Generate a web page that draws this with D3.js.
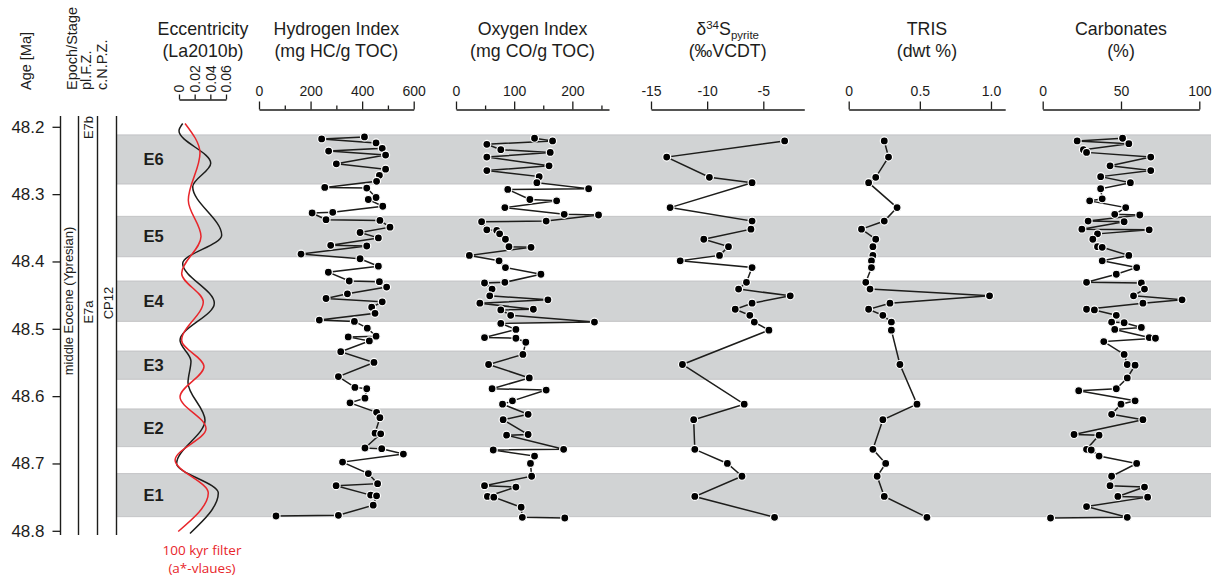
<!DOCTYPE html>
<html>
<head>
<meta charset="utf-8">
<script src="https://cdn.jsdelivr.net/npm/d3@7"></script>
<style>
  body { margin: 0; background: #fff; }
  svg { display: block; }
  text { font-family: "Liberation Sans", Arial, Helvetica, sans-serif; fill: #1d1d1b; }
</style>
</head>
<body>
<svg id="chart" width="1219" height="578"></svg>
<script>
// ---------- age axis and eccentricity cycles ----------
const ageTicks = [48.2, 48.3, 48.4, 48.5, 48.6, 48.7, 48.8];
const bandNames = ["E6", "E5", "E4", "E3", "E2", "E1"];
const bandTop  = [48.212, 48.333, 48.429, 48.533, 48.619, 48.715];
const bandBase = [48.285, 48.393, 48.489, 48.575, 48.675, 48.779];

// La2010b eccentricity (turning points)
const eccAge = [48.195, 48.206, 48.254, 48.289, 48.361, 48.403, 48.462, 48.517, 48.548, 48.580, 48.636, 48.700, 48.744, 48.804];
const eccVal = [0.0047, 0.0, 0.0405, 0.0175, 0.0545, 0.0047, 0.0451, 0.0013, 0.0153, 0.0115, 0.0332, -0.003, 0.0502, 0.014];
// 100 kyr filter of a* values
const filtAge = [48.195, 48.239, 48.309, 48.363, 48.418, 48.460, 48.517, 48.556, 48.601, 48.648, 48.695, 48.744, 48.801];
const filtVal = [0.0077, 0.0268, 0.0119, 0.0281, 0.0034, 0.031, 0.0034, 0.0319, 0.0013, 0.0345, -0.005, 0.0374, -0.001];
const eccTicks = [0, 0.02, 0.04, 0.06];

// ---------- Hydrogen Index ----------
const hiAge = [48.215,48.218,48.224,48.232,48.236,48.242,48.255,48.263,48.272,48.281,48.290,48.291,48.305,48.308,48.318,48.327,48.328,48.338,48.339,48.349,48.357,48.365,48.376,48.377,48.389,48.396,48.407,48.416,48.429,48.430,48.438,48.448,48.455,48.460,48.468,48.477,48.487,48.489,48.499,48.511,48.512,48.518,48.534,48.550,48.571,48.587,48.589,48.603,48.610,48.624,48.632,48.655,48.656,48.677,48.678,48.686,48.698,48.715,48.730,48.733,48.747,48.748,48.762,48.777,48.778];
const hiVal = [409,243,454,478,270,491,300,491,467,456,255,418,454,424,480,286,206,260,469,508,392,463,278,418,163,392,463,269,350,467,495,343,260,478,437,450,234,370,420,454,346,428,317,446,308,372,418,411,353,456,469,450,472,411,476,560,324,424,460,299,433,456,443,308,66];
const hiMajor = [0, 200, 400, 600];
const hiMinor = [100, 300, 500];

// ---------- Oxygen Index ----------
const oiAge = [48.217,48.221,48.226,48.234,48.238,48.245,48.258,48.265,48.274,48.283,48.292,48.293,48.308,48.310,48.320,48.330,48.331,48.340,48.341,48.353,48.354,48.359,48.367,48.378,48.379,48.391,48.399,48.409,48.419,48.431,48.432,48.441,48.451,48.457,48.462,48.471,48.472,48.480,48.490,48.492,48.501,48.513,48.514,48.520,48.538,48.553,48.573,48.589,48.591,48.607,48.612,48.627,48.635,48.657,48.658,48.679,48.680,48.689,48.700,48.719,48.733,48.735,48.749,48.750,48.765,48.780,48.781];
const oiVal = [135,166,53,77,162,53,160,53,143,139,228,89,127,173,84,186,245,155,44,53,70,75,85,91,129,23,74,85,146,84,49,62,58,158,41,133,77,94,238,77,103,49,103,120,115,56,126,62,155,97,80,124,81,124,87,185,64,135,128,130,49,103,54,65,112,114,187];
const oiMajor = [0, 100, 200];
const oiMinor = [50, 150, 250];

// ---------- sulphur: d34S pyrite and TRIS ----------
const sAge = [48.221,48.245,48.275,48.283,48.320,48.340,48.352,48.367,48.378,48.391,48.399,48.409,48.431,48.441,48.451,48.462,48.471,48.480,48.490,48.502,48.553,48.612,48.635,48.679,48.700,48.719,48.749,48.780];
const d34S = [-3.1,-13.6,-9.8,-6.0,-13.3,-6.0,-6.1,-10.3,-8.1,-8.9,-12.4,-6.0,-6.5,-7.2,-2.6,-6.0,-7.5,-6.2,-5.8,-4.5,-12.2,-6.7,-11.2,-11.1,-8.2,-6.9,-11.1,-4.0];
const trisVal = [0.25,0.28,0.19,0.14,0.34,0.25,0.09,0.19,0.17,0.17,0.16,0.16,0.12,0.15,0.99,0.29,0.14,0.24,0.30,0.30,0.36,0.48,0.24,0.17,0.26,0.20,0.25,0.55];
const sTicks = [-15, -10, -5];
const trisTicks = [0, 0.5, 1.0];

// ---------- Carbonates ----------
const carbAge = [48.217,48.221,48.225,48.234,48.238,48.245,48.258,48.265,48.274,48.283,48.292,48.307,48.310,48.320,48.330,48.331,48.340,48.341,48.352,48.353,48.359,48.367,48.378,48.379,48.391,48.399,48.409,48.419,48.431,48.432,48.441,48.451,48.457,48.462,48.471,48.472,48.480,48.490,48.491,48.498,48.501,48.513,48.514,48.519,48.538,48.553,48.554,48.573,48.589,48.592,48.607,48.612,48.627,48.635,48.657,48.658,48.679,48.680,48.689,48.700,48.719,48.733,48.735,48.749,48.750,48.764,48.780,48.781];
const carbVal = [51,22,55,26,28,69,43,69,37,56,37,38,30,53,46,62,29,52,25,68,35,32,35,38,55,38,60,47,28,63,65,58,89,64,28,33,47,44,52,63,46,68,72,39,52,54,59,54,47,23,59,50,44,64,20,36,28,31,36,60,44,43,65,48,67,28,54,5];
const carbTicks = [0, 50, 100];

// ---------- drawing ----------
const ink = "#1d1d1b";
const red = "#e8262b";
const titleSize = "17.8px";
const svg = d3.select("#chart");
const yAge = d3.scaleLinear().domain([48.2, 48.8]).range([126.8, 530.8]);

// grey cycle bands
const bands = bandNames.map((n, i) => ({ name: n, top: bandTop[i], base: bandBase[i] }));
const gBands = svg.append("g");
gBands.selectAll("rect").data(bands).join("rect")
  .attr("x", 116.5).attr("width", 1211 - 116.5)
  .attr("y", d => yAge(d.top))
  .attr("height", d => yAge(d.base) - yAge(d.top))
  .attr("fill", "#d1d3d4");
gBands.selectAll("line").data(bands.flatMap(d => [d.top, d.base])).join("line")
  .attr("x1", 116.5).attr("x2", 1211)
  .attr("y1", d => yAge(d)).attr("y2", d => yAge(d))
  .attr("stroke", "#bcbdbf").attr("stroke-width", 0.8);
gBands.selectAll("text").data(bands).join("text")
  .attr("x", 153.7)
  .attr("y", d => (yAge(d.top) + yAge(d.base)) / 2)
  .attr("dy", "0.36em")
  .attr("text-anchor", "middle")
  .style("font-size", "16.5px").style("font-weight", "bold")
  .text(d => d.name);

// eccentricity and filtered a* curves
const xEcc = d3.scaleLinear().domain([0, 0.06]).range([179, 226]);
const eccLine = d3.line().x(d => xEcc(d[1])).y(d => yAge(d[0])).curve(d3.curveMonotoneY);
svg.append("path").datum(d3.zip(eccAge, eccVal)).attr("d", eccLine)
  .attr("fill", "none").attr("stroke", ink).attr("stroke-width", 1.5);
svg.append("path").datum(d3.zip(filtAge, filtVal)).attr("d", eccLine)
  .attr("fill", "none").attr("stroke", red).attr("stroke-width", 1.5);

const gEccAxis = svg.append("g").attr("transform", "translate(0,99.5)")
  .call(d3.axisTop(xEcc).tickValues(eccTicks).tickSize(5).tickSizeOuter(0)
    .tickFormat(d => d === 0 ? "0" : d.toFixed(2)));
gEccAxis.selectAll(".tick text")
  .attr("x", 0).attr("y", 0).attr("dy", "0.35em")
  .attr("transform", "translate(0,-7) rotate(-90)")
  .style("text-anchor", "start")
  .style("font-size", "14px");
gEccAxis.selectAll("line, path").attr("stroke", ink).attr("stroke-width", 1.3);

svg.append("text").attr("x", 203).attr("y", 35).attr("text-anchor", "middle")
  .style("font-size", titleSize).text("Eccentricity");
svg.append("text").attr("x", 203).attr("y", 57).attr("text-anchor", "middle")
  .style("font-size", titleSize).text("(La2010b)");

svg.append("text").attr("x", 202).attr("y", 555).attr("text-anchor", "middle")
  .style("font-family", "'Open Sans', sans-serif").style("font-size", "13.5px")
  .style("fill", red).text("100 kyr filter");
svg.append("text").attr("x", 202).attr("y", 572.5).attr("text-anchor", "middle")
  .style("font-family", "'Open Sans', sans-serif").style("font-size", "13.5px")
  .style("fill", red).text("(a*-vlaues)");

// age axis
const gAge = svg.append("g").attr("transform", "translate(60.5,0)")
  .call(d3.axisLeft(yAge).tickValues(ageTicks).tickSize(8).tickPadding(8)
    .tickFormat(d3.format(".1f")));
gAge.select(".domain").remove();
gAge.selectAll(".tick text").style("font-size", "17px");
gAge.selectAll("line").attr("stroke", ink).attr("stroke-width", 1.3);

// stratigraphic column lines
svg.append("g").selectAll("line").data([60.5, 78.5, 97.5, 116.5]).join("line")
  .attr("x1", d => d).attr("x2", d => d).attr("y1", 116).attr("y2", 535)
  .attr("stroke", ink).attr("stroke-width", 1.4);

// rotated column headers and unit names
const rotated = [
  { t: "Age [Ma]", x: 30.5, y: 90, a: "start", s: 14.5 },
  { t: "Epoch/Stage", x: 77, y: 90, a: "start", s: 14.5 },
  { t: "pl.F.Z.", x: 91, y: 90, a: "start", s: 14.5 },
  { t: "c.N.P.Z.", x: 107, y: 90, a: "start", s: 14.5 },
  { t: "middle Eocene (Ypresian)", x: 73, y: 301, a: "middle", s: 13 },
  { t: "E7b", x: 93, y: 127.5, a: "middle", s: 13 },
  { t: "E7a", x: 93, y: 312, a: "middle", s: 13 },
  { t: "CP12", x: 112.5, y: 303, a: "middle", s: 13 }
];
svg.append("g").selectAll("text").data(rotated).join("text")
  .attr("transform", d => `translate(${d.x},${d.y}) rotate(-90)`)
  .attr("text-anchor", d => d.a)
  .style("font-size", d => d.s + "px")
  .text(d => d.t);

// proxy panels
const panels = [
  { title: ["Hydrogen Index", "(mg HC/g TOC)"], age: hiAge, val: hiVal,
    domain: [0, 600], range: [259, 413.7], major: hiMajor, minor: hiMinor, fmt: d => d },
  { title: ["Oxygen Index", "(mg CO/g TOC)"], age: oiAge, val: oiVal,
    domain: [0, 263], range: [456, 609], major: oiMajor, minor: oiMinor, fmt: d => d },
  { title: null, age: sAge, val: d34S,
    domain: [-15, -1.35], range: [651, 804.3], major: sTicks, minor: [], fmt: d => String(d) },
  { title: ["TRIS", "(dwt %)"], age: sAge, val: trisVal,
    domain: [0, 1.1], range: [848.7, 1005.2], major: trisTicks, minor: [], fmt: d => d === 0 ? "0" : d.toFixed(1) },
  { title: ["Carbonates", "(%)"], age: carbAge, val: carbVal,
    domain: [0, 100], range: [1042.7, 1199.3], major: carbTicks, minor: [], fmt: d => d }
];

panels.forEach(p => {
  const x = d3.scaleLinear().domain(p.domain).range(p.range);
  const g = svg.append("g");
  const mid = (p.range[0] + p.range[1]) / 2;

  const ax = g.append("g").attr("transform", "translate(0,109.5)")
    .call(d3.axisTop(x).tickValues(p.major).tickSize(8).tickPadding(6).tickSizeOuter(0)
      .tickFormat(p.fmt));
  ax.selectAll(".tick text").style("font-size", "14px");
  ax.selectAll("line, path").attr("stroke", ink).attr("stroke-width", 1.3);
  if (p.minor.length) {
    const mx = g.append("g").attr("transform", "translate(0,109.5)")
      .call(d3.axisTop(x).tickValues(p.minor).tickSize(4).tickSizeOuter(0).tickFormat(""));
    mx.select(".domain").remove();
    mx.selectAll("line").attr("stroke", ink).attr("stroke-width", 1.3);
  }

  if (p.title) {
    g.append("text").attr("x", mid).attr("y", 35).attr("text-anchor", "middle")
      .style("font-size", titleSize).text(p.title[0]);
    g.append("text").attr("x", mid).attr("y", 57).attr("text-anchor", "middle")
      .style("font-size", titleSize).text(p.title[1]);
  } else {
    const t = g.append("text").attr("x", mid).attr("y", 35).attr("text-anchor", "middle")
      .style("font-size", titleSize);
    t.append("tspan").text("δ");
    t.append("tspan").attr("dy", -6).style("font-size", "11.5px").text("34");
    t.append("tspan").attr("dy", 6).text("S");
    t.append("tspan").attr("dy", 4).style("font-size", "11.5px").text("pyrite");
    g.append("text").attr("x", mid).attr("y", 57).attr("text-anchor", "middle")
      .style("font-size", titleSize).text("(‰VCDT)");
  }

  const pts = d3.zip(p.age, p.val);
  g.append("path").datum(pts)
    .attr("d", d3.line().x(d => x(d[1])).y(d => yAge(d[0])))
    .attr("fill", "none").attr("stroke", ink).attr("stroke-width", 1.5);
  g.selectAll("circle").data(pts).join("circle")
    .attr("cx", d => x(d[1])).attr("cy", d => yAge(d[0]))
    .attr("r", 4)
    .attr("fill", "#000").attr("stroke", "#fff").attr("stroke-width", 1.2);
});
</script>
</body>
</html>
